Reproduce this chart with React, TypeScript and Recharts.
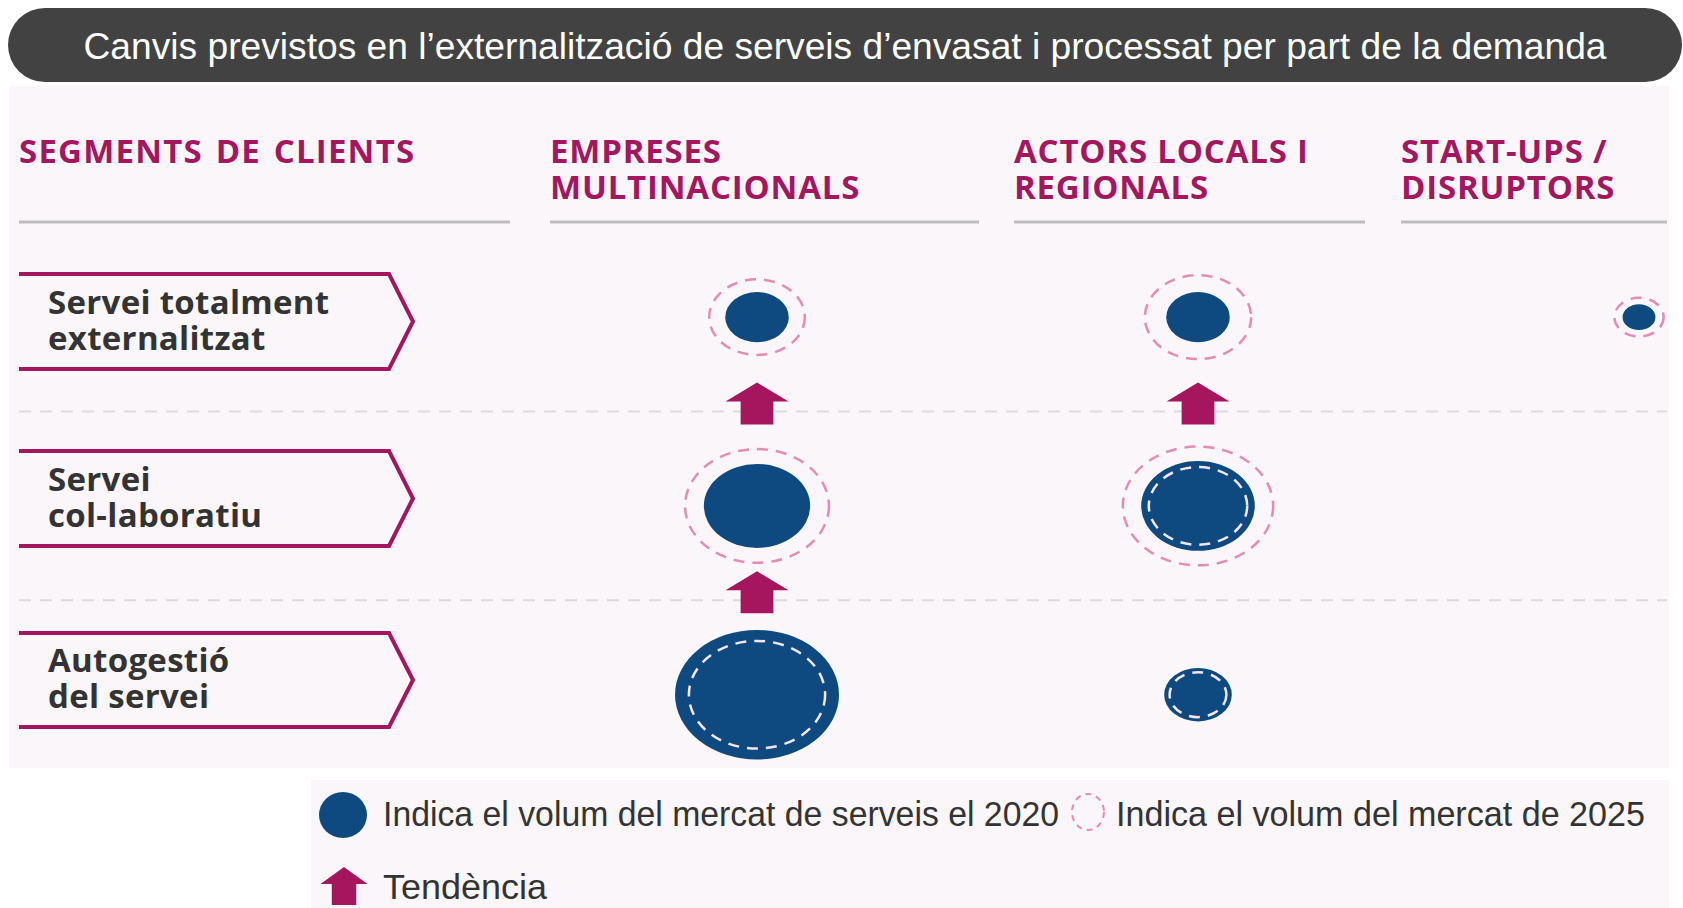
import { ScatterChart, Scatter, XAxis, YAxis, ZAxis, ReferenceLine } from "recharts";

const title =
  "Canvis previstos en l\u2019externalització de serveis d\u2019envasat i processat per part de la demanda";
const firstHeader = "SEGMENTS DE CLIENTS";
const clientHeaders = [
  ["EMPRESES", "MULTINACIONALS"],
  ["ACTORS LOCALS I", "REGIONALS"],
  ["START-UPS /", "DISRUPTORS"],
];
const segmentLabels = [
  ["Servei totalment", "externalitzat"],
  ["Servei", "col-laboratiu"],
  ["Autogestió", "del servei"],
];

// market volume index, one array per client, one value per segment (0 = none)
const volum2020 = [
  [15, 42, 100],
  [15, 48, 17],
  [4, 0, 0],
];
const volum2025 = [
  [34, 77, 69],
  [42, 84, 12],
  [9, 0, 0],
];
const volum2025Intern = [
  [0, 0, 0],
  [0, 36, 0],
  [0, 0, 0],
];

// trend arrows: client (1-based), from segment -> to segment
const tendenciaClient = [1, 1, 2];
const tendenciaDes = [2, 3, 2];
const tendenciaCap = [1, 2, 1];

const legend2020 = "Indica el volum del mercat de serveis el 2020";
const legend2025 = "Indica el volum del mercat de 2025";
const legendTrend = "Tendència";

const NAVY = "#0e4a7f";
const MAGENTA = "#a5165f";
const PINK = "#e68bb4";
const BG = "#faf6f9";
const HUMANIST = "'Open Sans', 'Noto Sans', sans-serif";
const NARROW = "'Liberation Sans Narrow', 'Liberation Sans', Arial, sans-serif";

type Pt = { x: number; y: number; v: number };

const filled: Pt[] = [];
const ringsOut: Pt[] = [];
const ringsIn: Pt[] = [];
volum2020.forEach((col, c) =>
  col.forEach((v, s) => {
    if (v > 0) filled.push({ x: c + 1, y: s + 1, v });
  })
);
volum2025.forEach((col, c) =>
  col.forEach((v, s) => {
    if (v <= 0) return;
    const p = { x: c + 1, y: s + 1, v };
    if (v > volum2020[c][s]) ringsOut.push(p);
    else ringsIn.push(p);
  })
);
volum2025Intern.forEach((col, c) =>
  col.forEach((v, s) => {
    if (v > 0) ringsIn.push({ x: c + 1, y: s + 1, v });
  })
);
const arrows: Pt[] = tendenciaClient.map((c, i) => ({
  x: c,
  y: (tendenciaDes[i] + tendenciaCap[i]) / 2,
  v: 0,
}));

const ASPECT = 0.79;

function Filled(props: any) {
  const { cx, cy, width } = props;
  const rx = (width ?? 0) / 2;
  return <ellipse cx={cx} cy={cy} rx={rx} ry={rx * ASPECT} fill={NAVY} />;
}

function OuterRing(props: any) {
  const { cx, cy, width } = props;
  const rx = (width ?? 0) / 2;
  return (
    <ellipse
      cx={cx}
      cy={cy}
      rx={rx}
      ry={rx * ASPECT}
      fill="none"
      stroke={PINK}
      strokeWidth={2.5}
      strokeDasharray="11 8"
    />
  );
}

function InnerRing(props: any) {
  const { cx, cy, width } = props;
  const rx = (width ?? 0) / 2;
  return (
    <ellipse
      cx={cx}
      cy={cy}
      rx={rx}
      ry={rx * ASPECT}
      fill="none"
      stroke="#f3e6ef"
      strokeWidth={2.5}
      strokeDasharray="11 8"
    />
  );
}

function arrowPath(cx: number, top: number, w: number, h: number) {
  const head = h * 0.45;
  const stem = w * 0.52;
  return `M${cx},${top} L${cx + w / 2},${top + head} L${cx + stem / 2},${top + head} L${cx + stem / 2},${top + h} L${cx - stem / 2},${top + h} L${cx - stem / 2},${top + head} L${cx - w / 2},${top + head} Z`;
}

function Arrow(props: any) {
  const { cx, cy } = props;
  return <path d={arrowPath(cx, cy - 29, 63, 42)} fill={MAGENTA} />;
}

const chevronTop = [274, 451, 633];
const chevronBottom = [369, 546, 727];
const headerX = [550, 1014, 1401];

// two-line labels as html blocks, 36px line box
const LINE = 36;
const BASE = 30.8; // baseline offset of Open Sans 33px inside a 36px line box

function Block({ x, baseline, lines, color, extra }: { x: number; baseline: number; lines: string[]; color: string; extra?: React.CSSProperties }) {
  return (
    <div
      style={{
        position: "absolute",
        left: x,
        top: baseline - BASE,
        fontFamily: HUMANIST,
        fontWeight: 700,
        fontSize: 33,
        lineHeight: `${LINE}px`,
        color,
        whiteSpace: "nowrap",
        ...extra,
      }}
    >
      {lines.map((l, i) => (
        <div key={i} style={{ height: LINE }}>
          {l}
        </div>
      ))}
    </div>
  );
}

function Overlay() {
  return (
    <svg width={1683} height={908} style={{ position: "absolute", left: 0, top: 0 }}>
      <rect x={8} y={8} width={1674} height={74} rx={37} fill="#424242" />
      <text
        x={845}
        y={59}
        textAnchor="middle"
        fill="#fff"
        fontSize={36}
        fontFamily="'Liberation Sans', Arial, sans-serif"
        textLength={1523}
        lengthAdjust="spacingAndGlyphs"
      >
        {title}
      </text>

      <rect x={9} y={86} width={1660} height={682} fill={BG} />
      <rect x={311} y={780} width={1358} height={128} fill={BG} />

      <g stroke="#bdbdbd" strokeWidth={3}>
        <line x1={19} x2={510} y1={222} y2={222} />
        <line x1={550} x2={979} y1={222} y2={222} />
        <line x1={1014} x2={1365} y1={222} y2={222} />
        <line x1={1401} x2={1667} y1={222} y2={222} />
      </g>

      {segmentLabels.map((_, i) => {
        const t = chevronTop[i];
        const b = chevronBottom[i];
        const m = (t + b) / 2;
        return (
          <path
            key={i}
            d={`M19,${t} H389 L413,${m} L389,${b} H19`}
            fill="none"
            stroke={MAGENTA}
            strokeWidth={4}
          />
        );
      })}

      <ellipse cx={343} cy={815} rx={24} ry={23} fill={NAVY} />
      <text x={383} y={826} fontFamily={NARROW} fontSize={35} fill="#333" textLength={676} lengthAdjust="spacingAndGlyphs">
        {legend2020}
      </text>
      <ellipse cx={1088} cy={812} rx={16} ry={18} fill="none" stroke={PINK} strokeWidth={2} strokeDasharray="6 5" />
      <text x={1116} y={826} fontFamily={NARROW} fontSize={35} fill="#333" textLength={529} lengthAdjust="spacingAndGlyphs">
        {legend2025}
      </text>
      <path d={arrowPath(344, 867, 47, 38)} fill={MAGENTA} />
      <text x={383} y={899} fontFamily={NARROW} fontSize={35} fill="#333" textLength={164} lengthAdjust="spacingAndGlyphs">
        {legendTrend}
      </text>
    </svg>
  );
}

export default function App() {
  return (
    <div style={{ position: "relative", width: 1683, height: 908, background: "#fff", overflow: "hidden" }}>
      <style>{`body{margin:0}`}</style>
      <Overlay />
      <Block x={19} baseline={164} lines={[firstHeader]} color={MAGENTA} extra={{ letterSpacing: 1.2, wordSpacing: 3 }} />
      {clientHeaders.map((lines, i) => (
        <Block key={i} x={headerX[i]} baseline={164} lines={lines} color={MAGENTA} extra={{ letterSpacing: 0.8 }} />
      ))}
      {segmentLabels.map((lines, i) => (
        <Block
          key={i}
          x={48}
          baseline={(chevronTop[i] + chevronBottom[i]) / 2 - 7}
          lines={lines}
          color="#333"
          extra={{ letterSpacing: 0.3 }}
        />
      ))}
      <div style={{ position: "absolute", left: 0, top: 0 }}>
        <ScatterChart width={1683} height={908} margin={{ top: 0, right: 16, bottom: 0, left: 19 }}>
          <XAxis type="number" dataKey="x" domain={[-0.6735, 3.0635]} allowDataOverflow hide />
          <YAxis type="number" dataKey="y" domain={[-0.68, 4.13]} allowDataOverflow reversed hide />
          <ZAxis type="number" dataKey="v" domain={[0, 100]} range={[0, Math.PI * 82 * 82]} />
          <ReferenceLine y={1.5} stroke="#dcdcdc" strokeWidth={2} strokeDasharray="12 9" />
          <ReferenceLine y={2.5} stroke="#dcdcdc" strokeWidth={2} strokeDasharray="12 9" />
          <Scatter data={ringsOut} shape={OuterRing} isAnimationActive={false} />
          <Scatter data={filled} shape={Filled} isAnimationActive={false} />
          <Scatter data={ringsIn} shape={InnerRing} isAnimationActive={false} />
          <Scatter data={arrows} shape={Arrow} isAnimationActive={false} />
        </ScatterChart>
      </div>
    </div>
  );
}
